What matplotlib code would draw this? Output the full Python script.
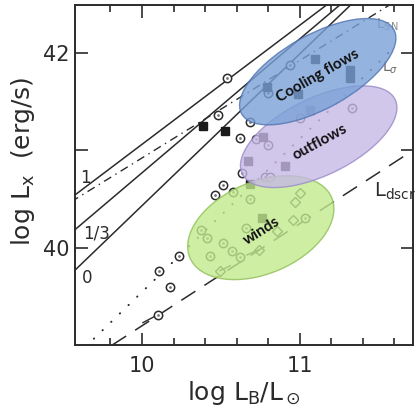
import numpy as np
import matplotlib.pyplot as plt
from matplotlib.patches import Ellipse
from matplotlib.transforms import ScaledTranslation

# ---- data (log L_B / L_sun , log L_X) ----
circ_lb = [10.538, 10.937, 10.481, 10.684, 10.620, 10.722, 10.797, 10.797, 11.000,
           11.329, 10.633, 10.778, 10.810, 10.513, 10.576, 10.462, 10.684, 10.373,
           10.411, 10.513, 10.658, 10.430, 10.570, 10.620, 10.234, 10.108, 10.177,
           10.101, 11.032]
circ_lx = [41.744, 41.877, 41.364, 41.292, 41.128, 41.118, 41.056, 41.590, 41.333,
           41.436, 40.769, 40.728, 40.728, 40.646, 40.574, 40.544, 40.503, 40.185,
           40.103, 40.051, 40.205, 39.918, 39.969, 39.908, 39.918, 39.764, 39.600,
           39.313, 40.308]

sq_lb = [10.386, 10.525, 10.766, 10.791, 11.095, 11.063, 11.316, 11.316, 10.671,
         10.905, 10.684, 10.759, 10.987]
sq_lx = [41.251, 41.200, 41.138, 41.651, 41.938, 41.415, 41.826, 41.744, 40.892,
         40.841, 40.656, 40.308, 41.579]

dia_lb = [10.968, 11.000, 10.956, 10.854, 10.741, 10.494]
dia_lx = [40.472, 40.564, 40.287, 40.174, 39.979, 39.764]

# upper-limit tails: start point and end point
tail_lb0 = [10.101, 10.494, 10.741]
tail_lx0 = [39.313, 39.764, 39.979]
tail_lb1 = [10.006, 10.560, 10.665]
tail_lx1 = [39.231, 39.815, 39.925]

# model lines
line_x = [9.55, 11.40]
line1_y = [40.51, 42.77]
line13_y = [40.15, 42.69]
line0_y = [39.73, 42.61]
sn_x, sn_y = [9.55, 11.65], [40.47, 42.57]
sig_x, sig_y = [9.64, 11.57], [38.98, 42.01]
dscr_x, dscr_y = [9.81, 11.72], [39.00, 41.00]

# regions: name, centre (lb, lx), width/height in px, angle, face, edge, text angle
regions = [
    ("winds", 10.753, 40.205, 154, 92, 23, "#c2ea8e", "#8fbf55", 32),
    ("outflows", 11.120, 41.138, 170, 77, 26, "#c6b9e5", "#9a8ac8", 28.6),
    ("Cooling flows", 11.114, 41.805, 174, 74, 29, "#7aa1d8", "#4f73b0", 29.7),
]
label_pos = {"Cooling flows": (11.114, 41.764), "outflows": (11.127, 41.087),
             "winds": (10.759, 40.174)}

ink = "#2b2b2b"

fig = plt.figure(figsize=(4.15, 4.08), dpi=100)
ax = fig.add_axes([0.181, 0.154, 0.815, 0.834])

ax.plot(line_x, line1_y, color=ink, lw=1.1, zorder=2)
ax.plot(line_x, line13_y, color=ink, lw=1.1, zorder=2)
ax.plot(line_x, line0_y, color=ink, lw=1.1, zorder=2)
ax.plot(sn_x, sn_y, color=ink, lw=1.0, dashes=[6, 3.5, 1, 3.5], zorder=2)
ax.plot(sig_x, sig_y, color=ink, lw=1.4, dashes=[0.2, 6], dash_capstyle="round", zorder=2)
ax.plot(dscr_x, dscr_y, color=ink, lw=1.1, dashes=[11, 7], zorder=2)

for x0, y0, x1, y1 in zip(tail_lb0, tail_lx0, tail_lb1, tail_lx1):
    ax.plot([x0, x1], [y0, y1], color=ink, lw=1.0, zorder=3)

ax.plot(circ_lb, circ_lx, "o", ms=6, mfc="white", mec=ink, mew=1.1, zorder=3)
ax.plot(circ_lb, circ_lx, ".", ms=2, color="#777777", zorder=3)
ax.plot(sq_lb, sq_lx, "s", ms=5.5, mfc="#1a1a1a", mec="#1a1a1a", zorder=3)
ax.plot(dia_lb, dia_lx, "D", ms=4.8, mfc="none", mec=ink, mew=1.0, zorder=3)

for name, cx, cy, w, h, ang, fc, ec, rot in regions:
    e = Ellipse((0, 0), w, h, angle=ang, facecolor=fc, edgecolor=ec, lw=1.0,
                alpha=0.8, transform=ScaledTranslation(cx, cy, ax.transData), zorder=4)
    ax.add_patch(e)
    tx, ty = label_pos[name]
    ax.text(tx, ty, name, rotation=rot, rotation_mode="anchor", ha="center", va="center",
            fontsize=11, family="Lato", fontweight="bold", color="#111111", zorder=5)

ax.text(9.639, 40.718, "1", fontsize=12, ha="center", va="center", color=ink)
ax.text(9.709, 40.144, "1/3", fontsize=12, ha="center", va="center", color=ink)
ax.text(9.652, 39.692, "0", fontsize=12, ha="center", va="center", color=ink)

ax.text(11.557, 42.287, r"L$_{\rm SN}$", fontsize=10, color="#8a8a8a", ha="center", va="center")
ax.text(11.575, 41.846, r"L$_\sigma$", fontsize=10, color="#6a6a6a", ha="center", va="center")
ax.text(11.605, 40.574, r"L$_{\rm dscr}$", fontsize=14, color=ink, ha="center", va="center")

ax.set_xlim(9.576, 11.72)
ax.set_ylim(39.0, 42.49)
ax.set_xticks([10, 11])
ax.set_xticks([9.8, 10.2, 10.4, 10.6, 10.8, 11.2, 11.4, 11.6], minor=True)
ax.set_yticks([40, 41, 42], ["40", "", "42"])
ax.tick_params(which="both", direction="in", top=True, right=True, width=1.2, colors=ink)
ax.tick_params(which="major", length=9, labelsize=15)
ax.tick_params(which="minor", length=5)
ax.tick_params(axis="x", pad=8)
ax.tick_params(axis="y", pad=4)
for s in ax.spines.values():
    s.set_linewidth(1.4)
    s.set_color(ink)

ax.set_ylabel(r"log L$_{\rm x}$  (erg/s)", fontsize=18, color=ink)
ax.yaxis.set_label_coords(-0.112, 0.54)
ax.set_xlabel(r"log L$_{\rm B}$/L$_\odot$", fontsize=18, color=ink, labelpad=2)

fig.savefig("out.png", dpi=100)
